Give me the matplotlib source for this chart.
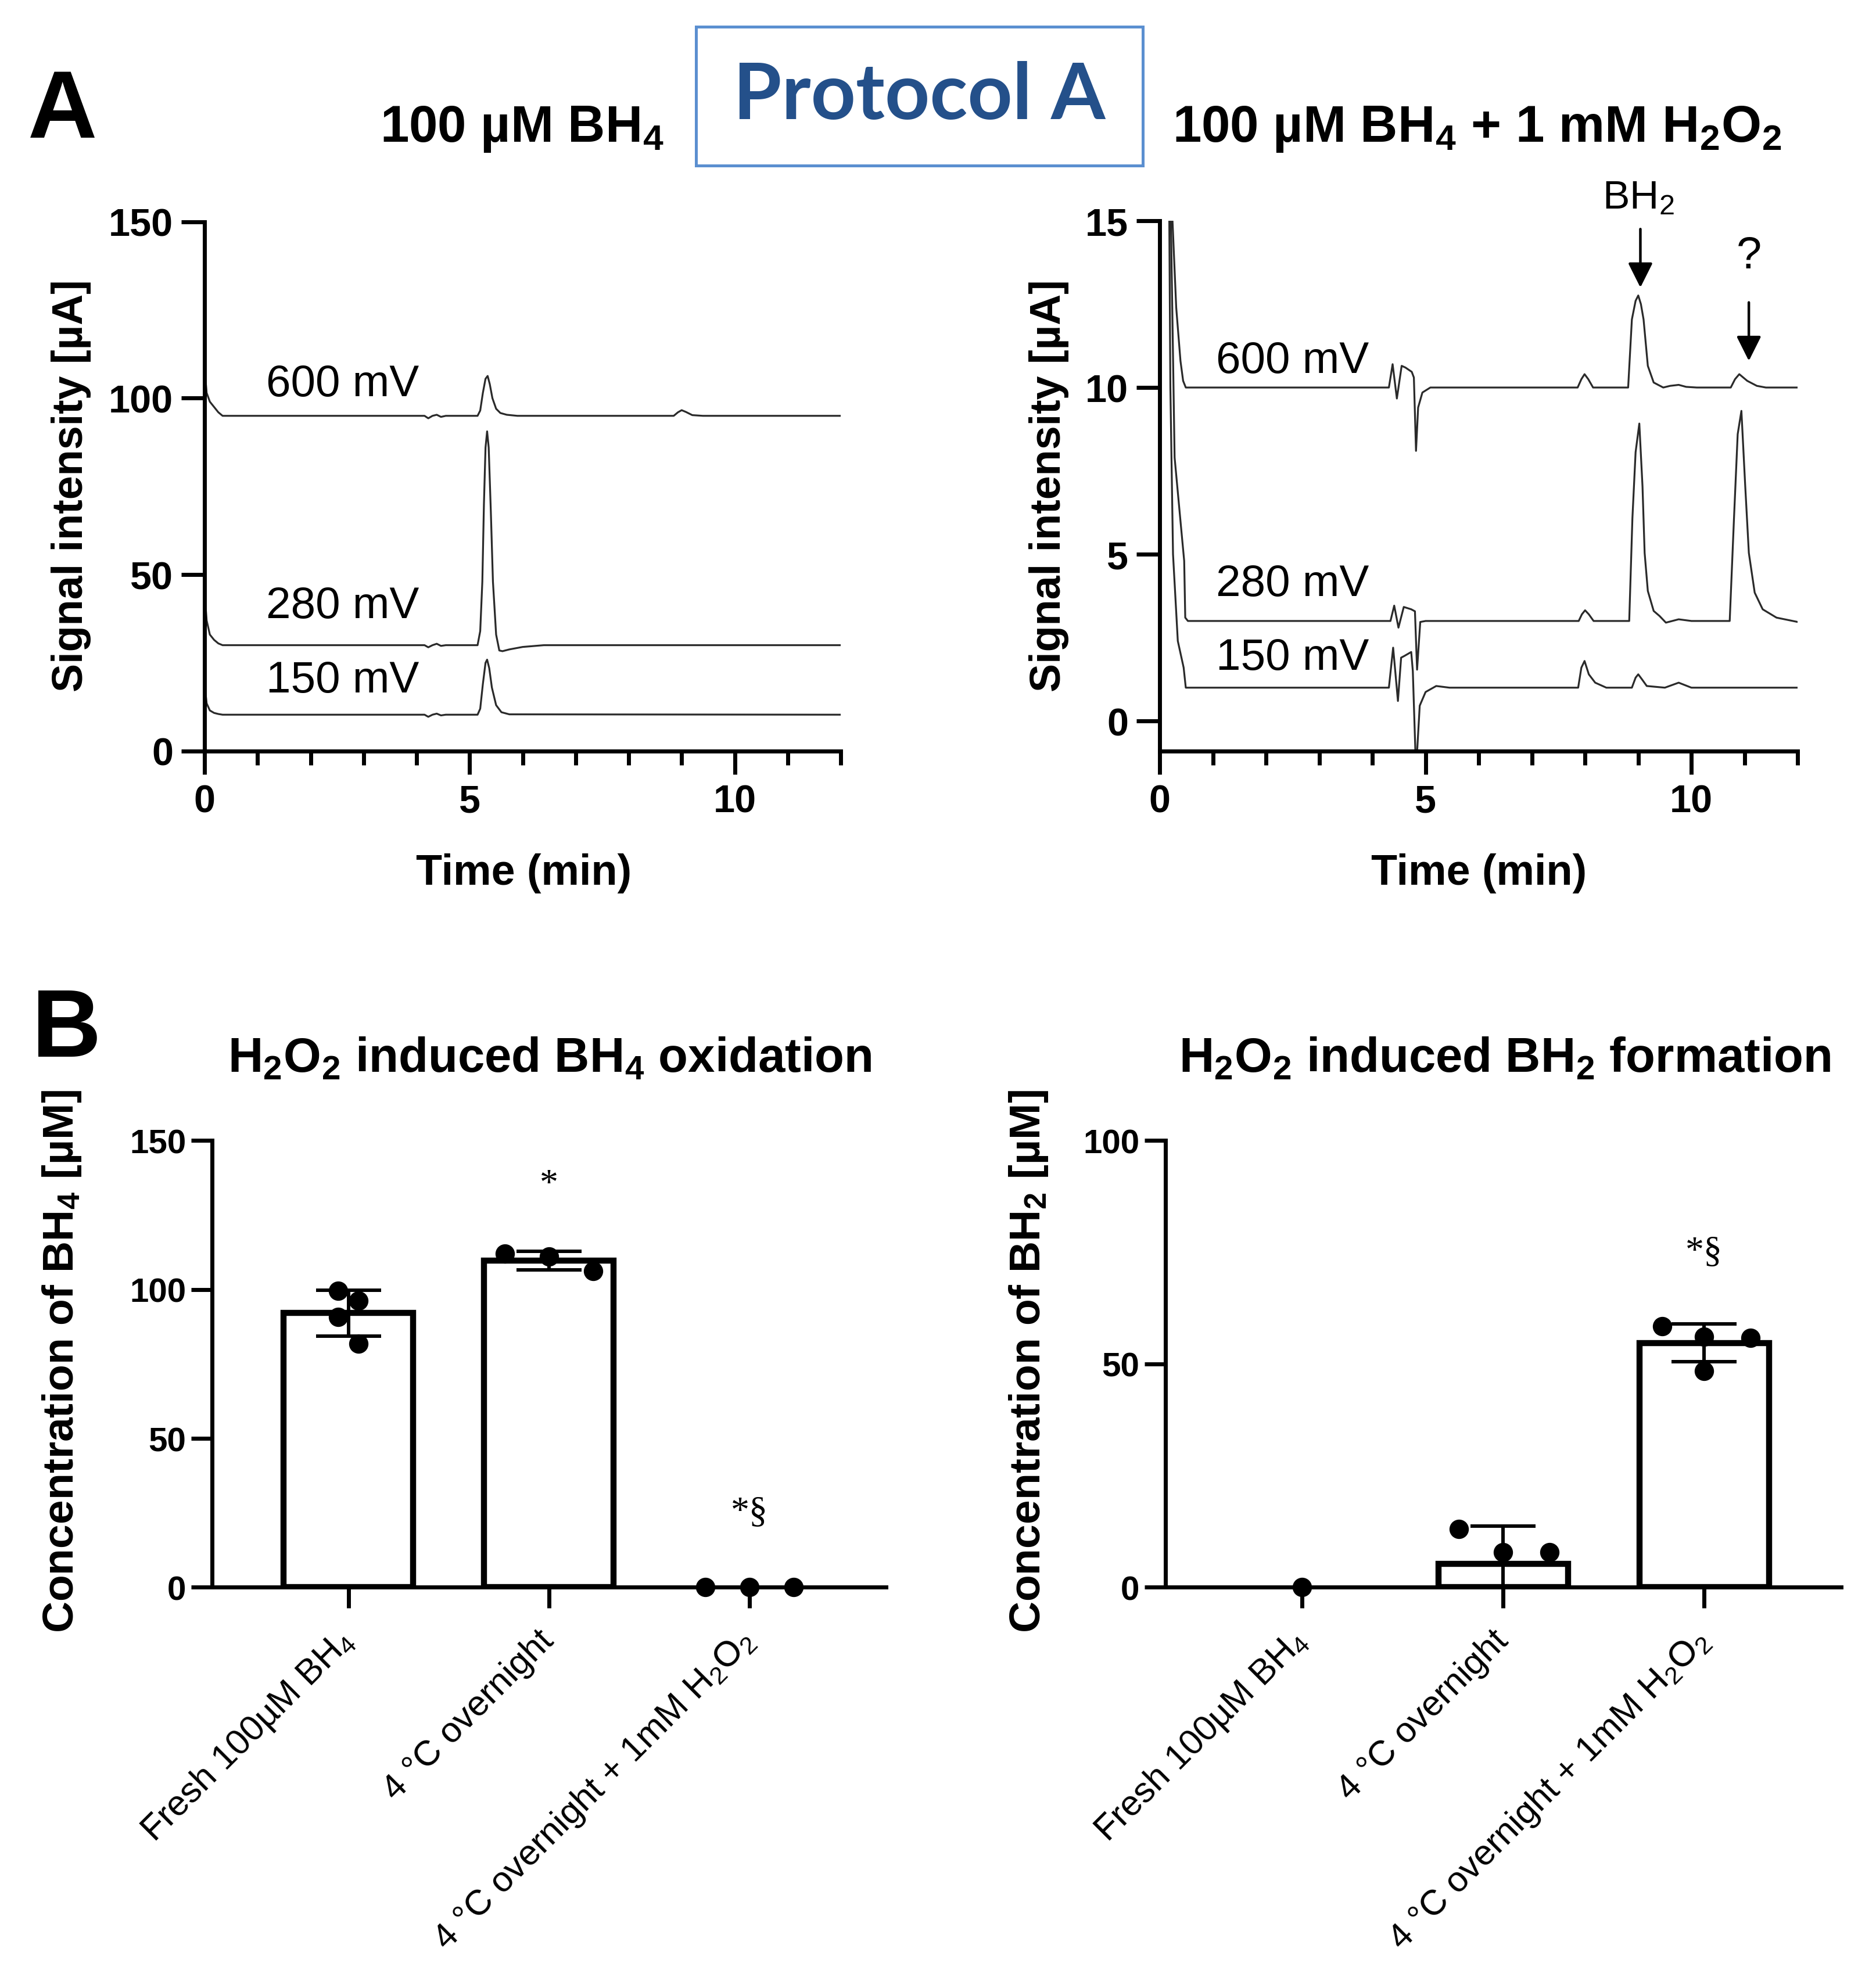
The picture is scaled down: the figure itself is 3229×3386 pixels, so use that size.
import numpy as np
import matplotlib
matplotlib.use('Agg')
import matplotlib.pyplot as plt
from matplotlib.patches import Rectangle

plt.rcParams['font.family'] = ['Liberation Sans', 'DejaVu Sans']
plt.rcParams['mathtext.default'] = 'regular'

# ---- panel A data: chromatograms (time in min, signal in uA)
# 100 uM BH4
a_t600 = [0.0, 0.04, 0.1, 0.18, 0.26, 0.34, 4.15, 4.22, 4.3, 4.38, 4.46, 4.55, 5.15, 5.2, 5.25, 5.3,
          5.34, 5.38, 5.43, 5.5, 5.58, 5.7, 5.9, 8.85, 8.93, 9.0, 9.08, 9.2, 9.4, 12.0]
a_v600 = [108.5, 101.5, 99.0, 97.5, 96.0, 95.0, 95.0, 94.3, 95.0, 95.3, 94.7, 95.0, 95.0, 96.5, 101.5, 105.5,
          106.3, 104.0, 100.0, 97.0, 95.8, 95.3, 95.0, 95.0, 96.0, 96.6, 96.1, 95.2, 95.0, 95.0]
a_t280 = [0.0, 0.04, 0.1, 0.18, 0.26, 0.34, 4.15, 4.22, 4.3, 4.38, 4.46, 4.55, 5.15, 5.2, 5.24, 5.27,
          5.3, 5.33, 5.36, 5.4, 5.44, 5.5, 5.56, 5.62, 5.75, 6.0, 6.4, 12.0]
a_v280 = [45.0, 37.0, 33.0, 31.5, 30.5, 30.0, 30.0, 29.4, 30.0, 30.4, 29.8, 30.0, 30.0, 34.0, 48.0, 70.0,
          86.0, 90.6, 86.0, 68.0, 48.0, 33.0, 28.5, 28.3, 28.8, 29.5, 30.0, 30.0]
a_t150 = [0.0, 0.04, 0.1, 0.18, 0.26, 0.34, 4.15, 4.22, 4.3, 4.38, 4.46, 4.55, 5.15, 5.2, 5.25, 5.3,
          5.33, 5.37, 5.42, 5.5, 5.6, 5.75, 12.0]
a_v150 = [19.0, 13.5, 11.5, 10.8, 10.5, 10.3, 10.3, 9.7, 10.3, 10.6, 10.1, 10.3, 10.3, 12.0, 19.0, 25.0,
          25.9, 23.5, 18.0, 13.0, 11.0, 10.4, 10.3]

# 100 uM BH4 + 1 mM H2O2
b_t600 = [0.12, 0.2, 0.24, 0.31, 0.39, 0.44, 0.49, 4.31, 4.38, 4.46, 4.55, 4.62, 4.74, 4.78, 4.82, 4.86,
          4.94, 5.09, 7.86, 7.93, 7.99, 8.06, 8.15, 8.81, 8.88, 8.95, 9.0, 9.05, 9.1, 9.18, 9.29, 9.47,
          9.6, 9.76, 9.9, 10.1, 10.74, 10.82, 10.9, 11.05, 11.23, 11.4, 12.0]
b_v600 = [30.0, 16.5, 15.0, 12.4, 10.8, 10.2, 10.0, 10.0, 10.7, 9.67, 10.65, 10.6, 10.47, 10.3, 8.1, 9.4,
          9.85, 10.0, 10.0, 10.25, 10.4, 10.25, 10.0, 10.0, 12.04, 12.6, 12.76, 12.5, 12.04, 10.65, 10.15, 10.0,
          10.05, 10.08, 10.02, 10.0, 10.0, 10.25, 10.4, 10.2, 10.05, 10.0, 10.0]
b_t280 = [0.12, 0.2, 0.28, 0.39, 0.46, 0.48, 0.53, 4.34, 4.41, 4.49, 4.59, 4.73, 4.8, 4.84, 4.9, 5.0,
          7.88, 7.94, 8.0, 8.07, 8.16, 8.83, 8.89, 8.95, 9.02, 9.08, 9.12, 9.18, 9.29, 9.4, 9.52, 9.76,
          10.0, 10.72, 10.8, 10.87, 10.94, 11.01, 11.08, 11.19, 11.34, 11.6, 12.0]
b_v280 = [30.0, 16.0, 7.9, 6.0, 4.8, 3.1, 3.0, 3.0, 3.46, 2.8, 3.42, 3.35, 3.29, 1.54, 2.97, 3.0,
          3.0, 3.2, 3.32, 3.2, 3.0, 3.0, 6.08, 8.06, 8.92, 7.03, 5.04, 3.9, 3.3, 3.15, 2.95, 3.05,
          3.0, 3.0, 6.06, 8.6, 9.3, 7.1, 5.04, 3.85, 3.35, 3.1, 2.97]
b_t150 = [0.12, 0.2, 0.25, 0.34, 0.45, 0.49, 4.31, 4.39, 4.48, 4.54, 4.6, 4.73, 4.76, 4.82, 4.89, 5.0,
          5.2, 5.45, 7.87, 7.93, 7.99, 8.07, 8.19, 8.4, 8.88, 8.95, 9.0, 9.07, 9.16, 9.5, 9.76, 10.0, 12.0]
b_v150 = [30.0, 10.0, 5.0, 2.4, 1.6, 1.0, 1.0, 2.2, 0.6, 1.9, 1.95, 2.07, 1.5, -1.5, 0.46, 0.87,
          1.05, 1.0, 1.0, 1.6, 1.8, 1.4, 1.15, 1.0, 1.0, 1.3, 1.4, 1.25, 1.05, 1.0, 1.15, 1.0, 1.0]

# ---- panel B data
groups = ['Fresh 100µM BH$_4$', '4 °C overnight', '4 °C overnight + 1mM H$_2$O$_2$']

bh4_mean = [92.1, 109.7, 0.0]
bh4_sd = [7.7, 3.2, 0.0]
bh4_pts = [[99.5, 96.2, 90.8, 81.8], [112.1, 111.0, 106.1], [0.0, 0.0, 0.0]]
bh4_jit = [[-0.05, 0.05, -0.05, 0.05], [-0.22, 0.0, 0.22], [-0.22, 0.0, 0.22]]
bh4_sig = ['', '*', '*§']
bh4_sig_y = [0, 135, 25]

bh2_mean = [0.0, 5.2, 54.7]
bh2_sd = [0.0, 8.5, 4.2]
bh2_pts = [[0.0], [13.1, 7.8, 7.8], [58.5, 56.1, 55.8, 48.4]]
bh2_jit = [[0.0], [-0.22, 0.0, 0.23], [-0.21, 0.0, 0.23, 0.0]]
bh2_sig = ['', '', '*§']
bh2_sig_y = [0, 0, 75]

fig = plt.figure(figsize=(32.3, 33.87), dpi=100)

lc = '#2a2a2a'


def style_chrom(ax, ylim, yticks):
    ax.set_xlim(0, 12)
    ax.set_ylim(*ylim)
    ax.set_yticks(yticks)
    ax.set_xticks([0, 5, 10])
    ax.set_xticks(range(0, 13), minor=True)
    for s in ['top', 'right']:
        ax.spines[s].set_visible(False)
    for s in ['left', 'bottom']:
        ax.spines[s].set_linewidth(5)
    ax.tick_params(which='major', length=29, width=5, labelsize=48, pad=10)
    ax.tick_params(axis='x', which='major', pad=12)
    ax.tick_params(which='minor', length=17, width=5)
    for lab in ax.get_xticklabels() + ax.get_yticklabels():
        lab.set_fontweight('bold')


ax1 = fig.add_axes([0.109, 0.618, 0.339, 0.269])
ax1.plot(a_t600, a_v600, color=lc, lw=2.3)
ax1.plot(a_t280, a_v280, color=lc, lw=2.3)
ax1.plot(a_t150, a_v150, color=lc, lw=2.3)
style_chrom(ax1, (0, 150), [0, 50, 100, 150])
ax1.text(2.6, 104, '600 mV', fontsize=55, ha='center', va='center')
ax1.text(2.6, 41, '280 mV', fontsize=55, ha='center', va='center')
ax1.text(2.6, 20, '150 mV', fontsize=55, ha='center', va='center')

ax2 = fig.add_axes([0.618, 0.618, 0.340, 0.2695])
ax2.plot(b_t600, b_v600, color=lc, lw=2.3)
ax2.plot(b_t280, b_v280, color=lc, lw=2.3)
ax2.plot(b_t150, b_v150, color=lc, lw=2.3)
style_chrom(ax2, (-0.9, 15), [0, 5, 10, 15])
ax2.text(2.5, 10.8, '600 mV', fontsize=55, ha='center', va='center')
ax2.text(2.5, 4.1, '280 mV', fontsize=55, ha='center', va='center')
ax2.text(2.5, 1.9, '150 mV', fontsize=55, ha='center', va='center')
arrow = dict(arrowstyle='-|>,head_length=0.5,head_width=0.25', mutation_scale=52, lw=3.2, color='black')
ax2.annotate('', xy=(9.04, 12.95), xytext=(9.04, 14.8), arrowprops=arrow, annotation_clip=False)
ax2.annotate('', xy=(11.08, 10.75), xytext=(11.08, 12.6), arrowprops=arrow, annotation_clip=False)
ax2.text(9.0, 15.7, 'BH$_2$', fontsize=50, ha='center', va='center', clip_on=False)
ax2.text(11.08, 13.95, '?', fontsize=56, ha='center', va='center', clip_on=False)

for x in [0.279, 0.788]:
    fig.text(x, 0.556, 'Time (min)', fontsize=53, fontweight='bold', ha='center', va='center')
for x in [0.038, 0.559]:
    fig.text(x, 0.753, 'Signal intensity [µA]', fontsize=53, fontweight='bold',
             rotation=90, ha='center', va='center')

fig.text(0.0147, 0.930, 'A', fontsize=119, fontweight='bold', ha='left', va='baseline')
fig.text(0.017, 0.463, 'B', fontsize=119, fontweight='bold', ha='left', va='baseline')
fig.text(0.278, 0.928, '100 µM BH$_4$', fontsize=64, fontweight='bold', ha='center', va='baseline')
fig.text(0.787, 0.928, '100 µM BH$_4$ + 1 mM H$_2$O$_2$', fontsize=64, fontweight='bold',
         ha='center', va='baseline')
fig.patches.append(Rectangle((0.371, 0.9155), 0.238, 0.0705, transform=fig.transFigure,
                             fill=False, edgecolor='#5b8fd0', lw=3.6))
fig.text(0.490, 0.951, 'Protocol A', fontsize=97, fontweight='bold', family='Lato',
         color='#24508a', ha='center', va='center')


def bar_panel(ax, means, sds, pts, jit, sig, sig_y, ymax, yticks):
    x = np.arange(len(means))
    means = np.array(means)
    shown = means > 0
    ax.bar(x[shown], means[shown], width=0.645, color='white', edgecolor='black', lw=7.5, zorder=2)
    ax.errorbar(x[shown], means[shown], yerr=np.array(sds)[shown], fmt='none', ecolor='black',
                elinewidth=4.3, capsize=40, capthick=4.3, zorder=3)
    for i in range(len(pts)):
        ax.plot(x[i] + np.array(jit[i]), pts[i], 'o', color='black', ms=23,
                zorder=4, clip_on=False)
        if sig[i]:
            ax.text(x[i], sig_y[i], sig[i], fontsize=46, family='Liberation Serif',
                    ha='center', va='center')
    ax.set_xlim(-0.68, 2.68)
    ax.set_ylim(0, ymax)
    ax.set_yticks(yticks)
    ax.set_xticks(x)
    ax.set_xticklabels(groups, rotation=45, ha='right', va='center', rotation_mode='anchor', fontsize=44)
    for s in ['top', 'right']:
        ax.spines[s].set_visible(False)
    for s in ['left', 'bottom']:
        ax.spines[s].set_linewidth(5)
    ax.tick_params(length=26, width=5, pad=6)
    ax.tick_params(axis='x', pad=34)
    ax.tick_params(axis='y', labelsize=42)
    for lab in ax.get_yticklabels():
        lab.set_fontweight('bold')


ax3 = fig.add_axes([0.113, 0.193, 0.359, 0.227])
bar_panel(ax3, bh4_mean, bh4_sd, bh4_pts, bh4_jit, bh4_sig, bh4_sig_y, 150, [0, 50, 100, 150])
ax4 = fig.add_axes([0.621, 0.193, 0.360, 0.227])
bar_panel(ax4, bh2_mean, bh2_sd, bh2_pts, bh2_jit, bh2_sig, bh2_sig_y, 100, [0, 50, 100])

fig.text(0.293, 0.455, 'H$_2$O$_2$ induced BH$_4$ oxidation', fontsize=60, fontweight='bold',
         ha='center', va='baseline')
fig.text(0.802, 0.455, 'H$_2$O$_2$ induced BH$_2$ formation', fontsize=60, fontweight='bold',
         ha='center', va='baseline')
fig.text(0.033, 0.308, 'Concentration of BH$_4$ [µM]', fontsize=54, fontweight='bold',
         rotation=90, ha='center', va='center')
fig.text(0.548, 0.308, 'Concentration of BH$_2$ [µM]', fontsize=54, fontweight='bold',
         rotation=90, ha='center', va='center')

fig.savefig('out.png', dpi=100, facecolor='white')
